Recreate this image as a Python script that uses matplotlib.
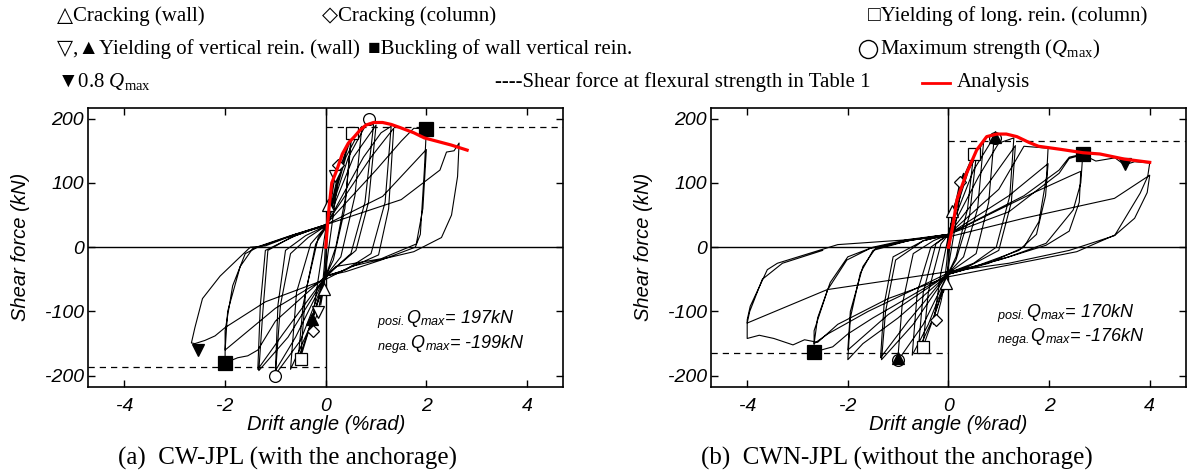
import matplotlib.pyplot as plt
from matplotlib.lines import Line2D

plt.rcParams['font.family'] = ['Liberation Sans', 'DejaVu Sans']
plt.rcParams['axes.unicode_minus'] = False
plt.rcParams['mathtext.fontset'] = 'custom'
plt.rcParams['mathtext.rm'] = 'Liberation Serif'
plt.rcParams['mathtext.it'] = 'Liberation Serif:italic'
plt.rcParams['mathtext.sf'] = 'Liberation Sans:italic'

# ---- CW-JPL (with the anchorage): measured loops, drift (%rad) / shear (kN)
cw_loop = [
    (0, 0), (0.05, 65), (0.14, 100),
    (0.04, 30), (0, -20), (-0.03, -60), (-0.1, -90),
    (-0.03, -30), (0, 15), (0.1, 70), (0.22, 125), (0.3, 140),
    (0.15, 50), (0, -35), (-0.15, -100), (-0.3, -132),
    (-0.15, -50), (0, 28), (0.25, 115), (0.52, 178),
    (0.4, 80), (0.2, 0), (0, -45), (-0.25, -110), (-0.55, -176),
    (-0.45, -90), (-0.2, 5), (0, 30), (0.3, 120), (0.5, 170),
    (0.38, 60), (0.15, -20), (0, -45), (-0.3, -120), (-0.5, -172),
    (-0.4, -70), (-0.15, 15), (0, 32), (0.4, 140), (0.72, 188),
    (0.58, 80), (0.3, -15), (0, -45), (-0.35, -130), (-0.7, -190),
    (-0.58, -70), (-0.3, 5), (0, 32), (0.45, 140), (0.85, 198), (0.95, 190),
    (0.78, 70), (0.5, -10), (0, -45), (-0.5, -145), (-1.0, -198),
    (-0.9, -90), (-0.7, -10), (-0.35, 15), (0, 33), (0.55, 140), (1.0, 190),
    (0.85, 70), (0.6, -5), (0, -45), (-0.6, -140), (-1.0, -192),
    (-0.95, -90), (-0.8, -5), (-0.4, 18), (0, 33), (0.75, 140), (1.1, 178), (1.3, 188),
    (1.18, 70), (0.9, -10), (0.4, -35), (0, -45), (-0.75, -140), (-1.33, -192),
    (-1.25, -100), (-1.15, -5), (-0.7, 15), (0, 35), (0.9, 140), (1.35, 185),
    (1.25, 60), (1.05, -12), (0.3, -38), (0, -45), (-0.85, -135), (-1.35, -190),
    (-1.3, -90), (-1.2, -5), (-0.6, 18), (0, 35), (1.0, 120), (1.5, 165), (1.75, 185), (2.0, 184),
    (1.96, 120), (1.88, 20), (1.78, 0), (1.1, -20), (0.4, -38), (0, -45),
    (-1.0, -115), (-1.35, -160), (-1.55, -169), (-1.75, -172), (-2.0, -180),
    (-2.0, -130), (-1.85, -60), (-1.6, -10), (-1.35, 0), (-0.6, 20), (0, 35), (1.13, 79), (2.0, 152),
    (1.93, 60), (1.8, 5), (1.1, -18), (0.2, -30), (0, -48), (-1.0, -95), (-2.0, -160),
    (-1.95, -100), (-1.7, -30), (-1.45, -2), (-0.7, 18), (0, 35), (1.5, 74), (2.27, 120),
    (2.4, 148), (2.55, 150), (2.65, 162),
    (2.62, 110), (2.5, 50), (2.3, 15), (1.75, -7), (0.5, -30), (0, -50),
    (-1.2, -85), (-2.0, -125), (-2.2, -138), (-2.4, -145), (-2.6, -150), (-2.67, -149),
    (-2.6, -125), (-2.45, -80), (-2.1, -45), (-1.7, -15), (-1.5, 0), (-1.2, 2), (-0.6, 20), (0, 33),
]
cw_ana_x = [0, 0.03, 0.07, 0.12, 0.22, 0.33, 0.45, 0.57, 0.68, 0.8, 0.95, 1.13, 1.3, 1.48, 1.75, 1.96, 2.2, 2.49, 2.81]
cw_ana_y = [0, 30, 65, 100, 120, 145, 162, 172, 182, 190, 194, 194, 191, 186, 178, 170, 165, 159, 151]
cw_flex = [186.5, -186.0]
cw_qmax = ['197', '-199']

# ---- CWN-JPL (without the anchorage)
cwn_loop = [
    (0, 0), (0.08, 56), (0.14, 70),
    (0.05, 20), (0, -20), (-0.04, -56), (-0.1, -70),
    (-0.03, -20), (0, 15), (0.12, 60), (0.23, 102), (0.3, 115),
    (0.15, 40), (0, -30), (-0.15, -85), (-0.25, -114), (-0.3, -120),
    (-0.15, -40), (0, 18), (0.25, 100), (0.5, 145),
    (0.38, 60), (0.15, -15), (0, -40), (-0.25, -100), (-0.51, -156),
    (-0.4, -70), (-0.15, 5), (0, 20), (0.3, 110), (0.55, 140),
    (0.42, 50), (0.15, -20), (0, -40), (-0.3, -110), (-0.6, -160),
    (-0.5, -70), (-0.25, 5), (0, 20), (0.4, 120), (0.7, 165),
    (0.58, 60), (0.3, -15), (0, -40), (-0.4, -120), (-0.72, -168),
    (-0.62, -70), (-0.35, 0), (0, 20), (0.5, 120), (0.91, 172),
    (0.8, 70), (0.55, -10), (0, -40), (-0.5, -120), (-1.01, -177),
    (-0.92, -90), (-0.7, -10), (-0.3, 10), (0, 20), (0.6, 110), (1.0, 162), (1.3, 170),
    (1.22, 80), (0.95, 0), (0.5, -25), (0, -40), (-0.7, -120), (-1.33, -175),
    (-1.25, -100), (-1.05, -20), (-0.5, 10), (0, 20), (0.8, 100), (1.33, 158),
    (1.25, 70), (1.0, -5), (0.4, -30), (0, -40), (-0.8, -115), (-1.35, -172),
    (-1.28, -90), (-1.1, -15), (-0.5, 10), (0, 20), (1.0, 90), (1.5, 157), (1.98, 154),
    (1.95, 110), (1.8, 40), (1.5, 0), (0.8, -25), (0, -42), (-1.0, -110), (-1.7, -150), (-2.0, -175),
    (-1.95, -110), (-1.75, -40), (-1.5, -5), (-0.8, 10), (0, 20), (1.2, 80), (1.98, 130),
    (1.93, 80), (1.75, 20), (1.4, -5), (0.6, -28), (0, -42), (-1.2, -105), (-2.0, -160),
    (-1.95, -100), (-1.7, -30), (-1.45, -2), (-0.7, 12), (0, 20), (1.5, 80), (2.2, 120),
    (2.4, 140), (2.67, 145),
    (2.63, 100), (2.48, 58), (1.94, 6), (1.2, -15), (0, -42), (-1.5, -110), (-2.0, -135),
    (-2.3, -155), (-2.67, -163),
    (-2.67, -130), (-2.4, -66), (-2.02, -20), (-1.56, -2), (-0.8, 10), (0, 20), (1.7, 85),
    (2.4, 110), (2.63, 118),
    (2.6, 70), (2.4, 25), (1.94, 3), (1.0, -20), (0, -40), (-1.6, -100), (-2.4, -135), (-2.67, -150),
    (-2.6, -110), (-2.35, -55), (-2.0, -15), (-1.5, 0), (-0.8, 12), (0, 20), (1.2, 55), (2.2, 115),
    (2.4, 138), (2.67, 144), (2.93, 134), (3.31, 139), (3.5, 128), (3.7, 133), (4.0, 131),
    (3.96, 110), (3.81, 84), (3.31, 19), (2.55, -7), (1.71, -20), (0.72, -35), (0, -46),
    (-1.2, -80), (-2.2, -120), (-2.6, -148), (-2.86, -144), (-3.09, -152), (-3.47, -142),
    (-3.76, -137), (-4.0, -142),
    (-4.0, -113), (-3.94, -92), (-3.6, -35), (-3.4, -25), (-2.2, 4), (0, 16),
    (1.5, 45), (3.3, 76), (3.92, 108), (4.0, 112),
    (3.95, 85), (3.7, 45), (3.3, 18), (2.4, -5), (1.2, -25), (0, -38),
    (-2.41, -66), (-4.0, -118),
    (-3.95, -100), (-3.7, -50), (-3.3, -25), (-2.5, -5),
]
cwn_ana_x = [0, 0.03, 0.08, 0.17, 0.36, 0.56, 0.76, 0.96, 1.15, 1.36, 1.6, 1.79, 2.25, 2.67, 3.01, 3.5, 4.0]
cwn_ana_y = [0, 11, 30, 74, 115, 151, 172, 176, 176, 172, 163, 157, 152, 147, 145, 137, 132]
cwn_flex = [164.7, -165.0]
cwn_qmax = ['170', '-176']

# event markers: (drift, shear)
cw_events = {
    'crack_wall': [(0.05, 66), (-0.03, -65)],
    'crack_col': [(0.25, 128), (-0.25, -130)],
    'yield_col': [(0.52, 177), (-0.5, -174)],
    'yield_wall_open': [(0.19, 110), (-0.15, -101)],
    'qmax': [(0.85, 200), (-1.01, -200)],
    'yield_wall_fill': [(-0.27, -112)],
    'buckle': [(2.0, 184), (-2.01, -180)],
    'q08': [(-2.53, -160)],
}
cwn_events = {
    'crack_wall': [(0.08, 56), (-0.04, -56)],
    'crack_col': [(0.23, 102), (-0.25, -114)],
    'yield_col': [(0.5, 145), (-0.51, -156)],
    'yield_wall_open': [],
    'qmax': [(0.92, 170), (-1.01, -175)],
    'yield_wall_fill': [(0.92, 172), (-1.01, -173)],
    'buckle': [(2.67, 145), (-2.67, -163)],
    'q08': [(3.5, 129)],
}

marker_style = {
    'crack_wall': dict(marker='^', ms=8, mfc='white', mec='black'),
    'crack_col': dict(marker='D', ms=6, mfc='white', mec='black'),
    'yield_col': dict(marker='s', ms=9, mfc='white', mec='black'),
    'yield_wall_open': dict(marker='v', ms=8, mfc='white', mec='black'),
    'qmax': dict(marker='o', ms=8.5, mfc='white', mec='black'),
    'yield_wall_fill': dict(marker='^', ms=8.5, mfc='black', mec='black'),
    'buckle': dict(marker='s', ms=9.5, mfc='black', mec='black'),
    'q08': dict(marker='v', ms=9, mfc='black', mec='black'),
}

fig = plt.figure(figsize=(12.04, 4.73), dpi=100)
ax_a = fig.add_axes([0.0733, 0.1825, 0.3945, 0.5898])
ax_b = fig.add_axes([0.5905, 0.1825, 0.3945, 0.5898])

panels = [
    (ax_a, cw_loop, cw_ana_x, cw_ana_y, cw_flex, cw_qmax, cw_events, 1.02, [-118, -157]),
    (ax_b, cwn_loop, cwn_ana_x, cwn_ana_y, cwn_flex, cwn_qmax, cwn_events, 0.96, [-109, -147]),
]

for ax, loop, ana_x, ana_y, flex, qmax, events, tx, ty in panels:
    xs = [p[0] for p in loop]
    ys = [p[1] for p in loop]
    ax.set_xlim(-4.72, 4.72)
    ax.set_ylim(-217, 217)
    ax.axhline(0, color='black', lw=1.0, zorder=1)
    ax.axvline(0, color='black', lw=1.0, zorder=1)
    ax.plot([0, 4.72], [flex[0], flex[0]], color='black', lw=0.9, ls=(0, (5, 4)), zorder=1)
    ax.plot([-4.72, 0], [flex[1], flex[1]], color='black', lw=0.9, ls=(0, (5, 4)), zorder=1)
    ax.plot(xs, ys, color='black', lw=0.8, zorder=2)
    for key, pts in events.items():
        for x, y in pts:
            ax.plot([x], [y], ls='none', mew=0.9, zorder=4, **marker_style[key])
    ax.plot(ana_x, ana_y, color='#ff0000', lw=2.3, zorder=5)

    ax.set_xticks([-4, -2, 0, 2, 4])
    ax.set_yticks([-200, -100, 0, 100, 200])
    ax.tick_params(direction='in', top=True, right=True, length=5, width=1,
                   labelsize=14)
    ax.tick_params(axis='x', pad=8)
    ax.tick_params(axis='y', pad=3)
    for lab in ax.get_xticklabels() + ax.get_yticklabels():
        lab.set_fontstyle('italic')
    for sp in ax.spines.values():
        sp.set_linewidth(1.2)

    ax.set_xlabel('Drift angle (%rad)', fontsize=14.5, fontstyle='italic')
    ax.xaxis.set_label_coords(0.5, -0.137)
    ax.xaxis.label.set_va('center')
    ax.set_ylabel('Shear force (kN)', fontsize=14.5, fontstyle='italic')
    ax.yaxis.set_label_coords(-0.142, 0.5)
    ax.yaxis.label.set_va('center')

    ax.text(tx, ty[0], r'${}_{\mathsf{posi.}}\mathsf{Q}_{\mathsf{max}}$= ' + qmax[0] + 'kN',
            fontsize=13, fontstyle='italic')
    ax.text(tx, ty[1], r'${}_{\mathsf{nega.}}\mathsf{Q}_{\mathsf{max}}$= ' + qmax[1] + 'kN',
            fontsize=13, fontstyle='italic')

serif = ['Liberation Serif', 'DejaVu Sans']
legend_rows = [
    [(57, '△Cracking (wall)'), (322, '◇Cracking (column)'),
     (868, '□Yielding of long. rein. (column)')],
    [(57, '▽,▲Yielding of vertical rein. (wall)'), (368, '■Buckling of wall vertical rein.'),
     (880, 'Maximum strength ($Q_{\\mathrm{max}}$)')],
    [(57, '▼0.8 $Q_{\\mathrm{max}}$'), (495, '----Shear force at flexural strength in Table 1'),
     (957, 'Analysis')],
]
row_y = [16, 49, 82]
for yy, row in zip(row_y, legend_rows):
    for xx, txt in row:
        fig.text(xx / 1204, 1 - yy / 473, txt, family=serif, fontsize=15, va='center')

# big open circle of the Qmax entry and red sample line of the Analysis entry
fig.add_artist(Line2D([868 / 1204], [1 - 49 / 473], transform=fig.transFigure,
                      marker='o', ms=13, mfc='white', mec='black', mew=1.0, ls='none'))
fig.add_artist(Line2D([922 / 1204, 950 / 1204], [1 - 83 / 473, 1 - 83 / 473],
                      transform=fig.transFigure, color='#ff0000', lw=2))

fig.text(287 / 1204, 1 - 458 / 473, '(a)  CW-JPL (with the anchorage)', family=serif,
         fontsize=18, ha='center', va='center')
fig.text(897 / 1204, 1 - 458 / 473, '(b)  CWN-JPL (without the anchorage)', family=serif,
         fontsize=18, ha='center', va='center')

fig.savefig('out.png', dpi=100)
